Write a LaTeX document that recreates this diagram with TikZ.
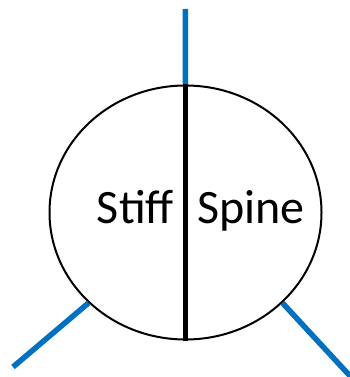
\documentclass[tikz,border=0pt]{standalone}
\usepackage{fontspec}
\setmainfont{Carlito}
\usepackage{tikz}
\usepackage{xcolor}
\usetikzlibrary{positioning, shapes.geometric}
\definecolor{cArm}{HTML}{0070C0}
\definecolor{cRim}{HTML}{000000}

\begin{document}
\begin{tikzpicture}[x=1pt, y=-1pt]
      \useasboundingbox (0,0) rectangle (350,377);
      \node[draw=cRim, line width=2pt, ellipse, minimum width=272pt, minimum height=254pt, inner sep=0pt] (body) at (185.5,212.5) {};
      \coordinate (armTop) at (185.3,9);
      \coordinate (armLeft) at (13,367);
      \coordinate (armRight) at (351,377);
      \draw[cArm, line width=5.5pt] (body.north) -- (armTop);
      \draw[cArm, line width=5.5pt] (body.223) -- (armLeft);
      \draw[cArm, line width=5.5pt] (body.317) -- (armRight);
      \draw[cRim, line width=5pt] (body.north) -- (body.south);
      \node[anchor=base east, inner sep=0pt, font=\fontsize{48}{48}\selectfont] (stiff) at (174,223) {Stiff};
      \node[anchor=base west, inner sep=0pt, font=\fontsize{48}{48}\selectfont] (spine) at (197,223) {Spine};
    \end{tikzpicture}
\end{document}
